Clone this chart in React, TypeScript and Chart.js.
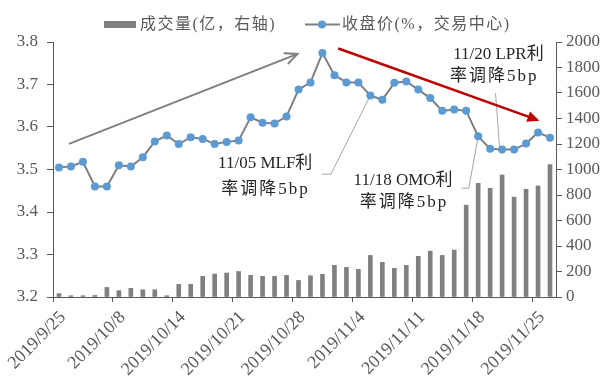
import React, { useEffect, useRef } from 'react';
import { Chart, registerables } from 'chart.js';

Chart.register(...registerables);

// ---------- data ----------
const dates = [
  '2019/9/25', '2019/9/26', '2019/9/27', '2019/9/29', '2019/9/30',
  '2019/10/8', '2019/10/9', '2019/10/10', '2019/10/11', '2019/10/12',
  '2019/10/14', '2019/10/15', '2019/10/16', '2019/10/17', '2019/10/18',
  '2019/10/21', '2019/10/22', '2019/10/23', '2019/10/24', '2019/10/25',
  '2019/10/28', '2019/10/29', '2019/10/30', '2019/10/31', '2019/11/1',
  '2019/11/4', '2019/11/5', '2019/11/6', '2019/11/7', '2019/11/8',
  '2019/11/11', '2019/11/12', '2019/11/13', '2019/11/14', '2019/11/15',
  '2019/11/18', '2019/11/19', '2019/11/20', '2019/11/21', '2019/11/22',
  '2019/11/25', '2019/11/26',
];

const volume = [
  26, 10, 10, 12, 75, 50, 68, 57, 57, 10,
  99, 99, 162, 180, 188, 200, 170, 162, 162, 170,
  130, 167, 178, 248, 232, 217, 326, 272, 225, 248,
  319, 360, 326, 368, 720, 892, 853, 957, 783, 845,
  871, 1038,
];

const closeRate = [
  3.505, 3.507, 3.518, 3.460, 3.460, 3.510, 3.507, 3.529, 3.566, 3.580,
  3.560, 3.576, 3.572, 3.560, 3.565, 3.568, 3.623, 3.610, 3.608, 3.625,
  3.688, 3.705, 3.774, 3.722, 3.705, 3.705, 3.674, 3.664, 3.704, 3.707,
  3.688, 3.668, 3.638, 3.641, 3.638, 3.578, 3.549, 3.547, 3.547, 3.561,
  3.587, 3.575,
];

const volumeLabel = '成交量(亿，右轴)';
const closeLabel = '收盘价(%，交易中心)';

// annotation texts (positions in data coordinates: category index, rate)
const noteTexts = [
  ['11/05 MLF利', '率调降5bp'],
  ['11/18 OMO利', '率调降5bp'],
  ['11/20 LPR利', '率调降5bp'],
];

// ---------- styles ----------
const FONT = '"Liberation Serif", "Times New Roman", "Noto Sans CJK SC", serif';
const AXIS_COLOR = '#595959';
const TEXT_COLOR = '#595959';
const NOTE_COLOR = '#262626';
const BAR_COLOR = '#808080';
const LINE_COLOR = '#7f7f7f';
const MARKER_COLOR = '#5B9BD5';

const notePlacement = [
  { lines: [[17.22, 3.513], [17.25, 3.454]], leader: [[26, 3.674], [22.7, 3.489], [21.95, 3.489]] },
  { lines: [[28.73, 3.474], [28.81, 3.422]], leader: [[35, 3.578], [34.22, 3.456], [33.62, 3.456]] },
  { lines: [[36.69, 3.770], [36.35, 3.718]], leader: [[36.45, 3.68], [36.8, 3.547]] },
];

const trendArrows = [
  { from: [0.89, 3.561], to: [19.92, 3.772], color: '#7f7f7f', width: 2, open: true },
  { from: [23.39, 3.784], to: [40.12, 3.615], color: '#C00000', width: 2.5, open: false },
];

function drawArrow(ctx: CanvasRenderingContext2D, x1: number, y1: number, x2: number, y2: number, color: string, width: number, open: boolean) {
  const ang = Math.atan2(y2 - y1, x2 - x1);
  const len = 12;
  const hw = 5.5;
  const bx = x2 - len * Math.cos(ang);
  const by = y2 - len * Math.sin(ang);
  ctx.save();
  ctx.strokeStyle = color;
  ctx.fillStyle = color;
  ctx.lineWidth = width;
  ctx.lineCap = 'round';
  ctx.beginPath();
  ctx.moveTo(x1, y1);
  ctx.lineTo(open ? x2 - 2 * Math.cos(ang) : bx, open ? y2 - 2 * Math.sin(ang) : by);
  ctx.stroke();
  const px = -Math.sin(ang);
  const py = Math.cos(ang);
  ctx.beginPath();
  ctx.moveTo(bx + px * hw, by + py * hw);
  ctx.lineTo(x2, y2);
  ctx.lineTo(bx - px * hw, by - py * hw);
  if (open) {
    ctx.lineJoin = 'miter';
    ctx.stroke();
  } else {
    ctx.closePath();
    ctx.fill();
  }
  ctx.restore();
}

const leaderPlugin = {
  id: 'leaders',
  beforeDatasetsDraw(chart: any) {
    const { ctx, scales } = chart;
    const xs = scales.x;
    const ys = scales.y;
    ctx.save();
    ctx.strokeStyle = '#a6a6a6';
    ctx.lineWidth = 1;
    notePlacement.forEach((n) => {
      ctx.beginPath();
      n.leader.forEach((p, i) => {
        const px = xs.getPixelForValue(p[0]);
        const py = ys.getPixelForValue(p[1]);
        if (i === 0) ctx.moveTo(px, py);
        else ctx.lineTo(px, py);
      });
      ctx.stroke();
    });
    ctx.restore();
  },
};

const annotationPlugin = {
  id: 'notes',
  afterDatasetsDraw(chart: any) {
    const { ctx, scales } = chart;
    const xs = scales.x;
    const ys = scales.y;
    trendArrows.forEach((a) => {
      drawArrow(
        ctx,
        xs.getPixelForValue(a.from[0]), ys.getPixelForValue(a.from[1]),
        xs.getPixelForValue(a.to[0]), ys.getPixelForValue(a.to[1]),
        a.color, a.width, a.open,
      );
    });
    ctx.save();
    ctx.fillStyle = NOTE_COLOR;
    ctx.textAlign = 'center';
    ctx.textBaseline = 'middle';
    ctx.font = `17px ${FONT}`;
    noteTexts.forEach((lines, k) => {
      lines.forEach((t, i) => {
        const pos = notePlacement[k].lines[i];
        (ctx as any).letterSpacing = i === 1 ? '2px' : '0px';
        ctx.fillText(t, xs.getPixelForValue(pos[0]), ys.getPixelForValue(pos[1]));
      });
    });
    ctx.restore();
  },
};

const legendPlugin = {
  id: 'customLegend',
  afterDraw(chart: any) {
    const { ctx } = chart;
    const ds = chart.data.datasets;
    const cy = 24.5;
    ctx.save();
    ctx.font = `16px ${FONT}`;
    ctx.textBaseline = 'middle';
    ctx.textAlign = 'left';
    (ctx as any).letterSpacing = '1.5px';
    // bar item
    ctx.fillStyle = BAR_COLOR;
    ctx.fillRect(104, cy - 3.5, 32, 7);
    ctx.fillStyle = TEXT_COLOR;
    ctx.fillText(ds[1].label, 140, cy);
    // line item
    ctx.strokeStyle = LINE_COLOR;
    ctx.lineWidth = 2;
    ctx.beginPath();
    ctx.moveTo(305, cy);
    ctx.lineTo(340, cy);
    ctx.stroke();
    ctx.fillStyle = MARKER_COLOR;
    ctx.beginPath();
    ctx.arc(322, cy, 4, 0, Math.PI * 2);
    ctx.fill();
    ctx.fillStyle = TEXT_COLOR;
    ctx.fillText(ds[0].label, 342, cy);
    ctx.restore();
  },
};

export default function App() {
  const canvasRef = useRef<HTMLCanvasElement | null>(null);

  useEffect(() => {
    const canvas = canvasRef.current;
    if (!canvas) return;
    const chart = new Chart(canvas, {
      type: 'bar',
      data: {
        labels: dates,
        datasets: [
          {
            type: 'line',
            label: closeLabel,
            data: closeRate,
            yAxisID: 'y',
            borderColor: LINE_COLOR,
            borderWidth: 2,
            pointRadius: 4,
            pointBackgroundColor: MARKER_COLOR,
            pointBorderColor: MARKER_COLOR,
            pointBorderWidth: 0,
            tension: 0,
            order: 1,
          } as any,
          {
            type: 'bar',
            label: volumeLabel,
            data: volume,
            yAxisID: 'y1',
            backgroundColor: BAR_COLOR,
            barThickness: 4,
            order: 2,
          } as any,
        ],
      },
      options: {
        responsive: false,
        animation: false,
        devicePixelRatio: 1,
        layout: { padding: { top: 42, left: 0, right: 0, bottom: 0 } },
        plugins: {
          legend: { display: false },
          tooltip: { enabled: false },
        },
        scales: {
          x: {
            offset: true,
            afterFit: (s: any) => { s.height = 89; },
            border: { display: true, color: AXIS_COLOR, width: 1 },
            grid: {
              offset: true,
              drawOnChartArea: false,
              drawTicks: true,
              tickLength: 5,
              color: (c: any) => (c.index % 5 === 0 ? AXIS_COLOR : 'rgba(0,0,0,0)'),
            },
            ticks: {
              autoSkip: false,
              maxRotation: 45,
              minRotation: 45,
              padding: 5,
              labelOffset: 4,
              color: TEXT_COLOR,
              font: { family: FONT, size: 18 },
              callback: (_v: any, i: number) => (i % 5 === 0 ? dates[i] : ''),
            },
          },
          y: {
            position: 'left',
            min: 3.2,
            max: 3.8,
            afterFit: (s: any) => { s.width = 53; },
            border: { display: true, color: AXIS_COLOR, width: 1 },
            grid: { drawOnChartArea: false, drawTicks: true, tickLength: 6, color: AXIS_COLOR },
            ticks: {
              stepSize: 0.1,
              padding: 9,
              color: TEXT_COLOR,
              font: { family: FONT, size: 17 },
              callback: (v: any) => Number(v).toFixed(1),
            },
          },
          y1: {
            position: 'right',
            min: 0,
            max: 2000,
            afterFit: (s: any) => { s.width = 53; },
            border: { display: true, color: AXIS_COLOR, width: 1 },
            grid: { drawOnChartArea: false, drawTicks: true, tickLength: 6, color: AXIS_COLOR },
            ticks: {
              stepSize: 200,
              padding: 4,
              color: TEXT_COLOR,
              font: { family: FONT, size: 17 },
              callback: (v: any) => String(Math.round(Number(v))),
            },
          },
        },
      } as any,
      plugins: [leaderPlugin, annotationPlugin, legendPlugin],
    });
    return () => chart.destroy();
  }, []);

  return (
    <div style={{ position: 'absolute', left: 0, top: 0, width: 609, height: 386, background: '#fff' }}>
      <canvas ref={canvasRef} width={609} height={386} />
    </div>
  );
}
